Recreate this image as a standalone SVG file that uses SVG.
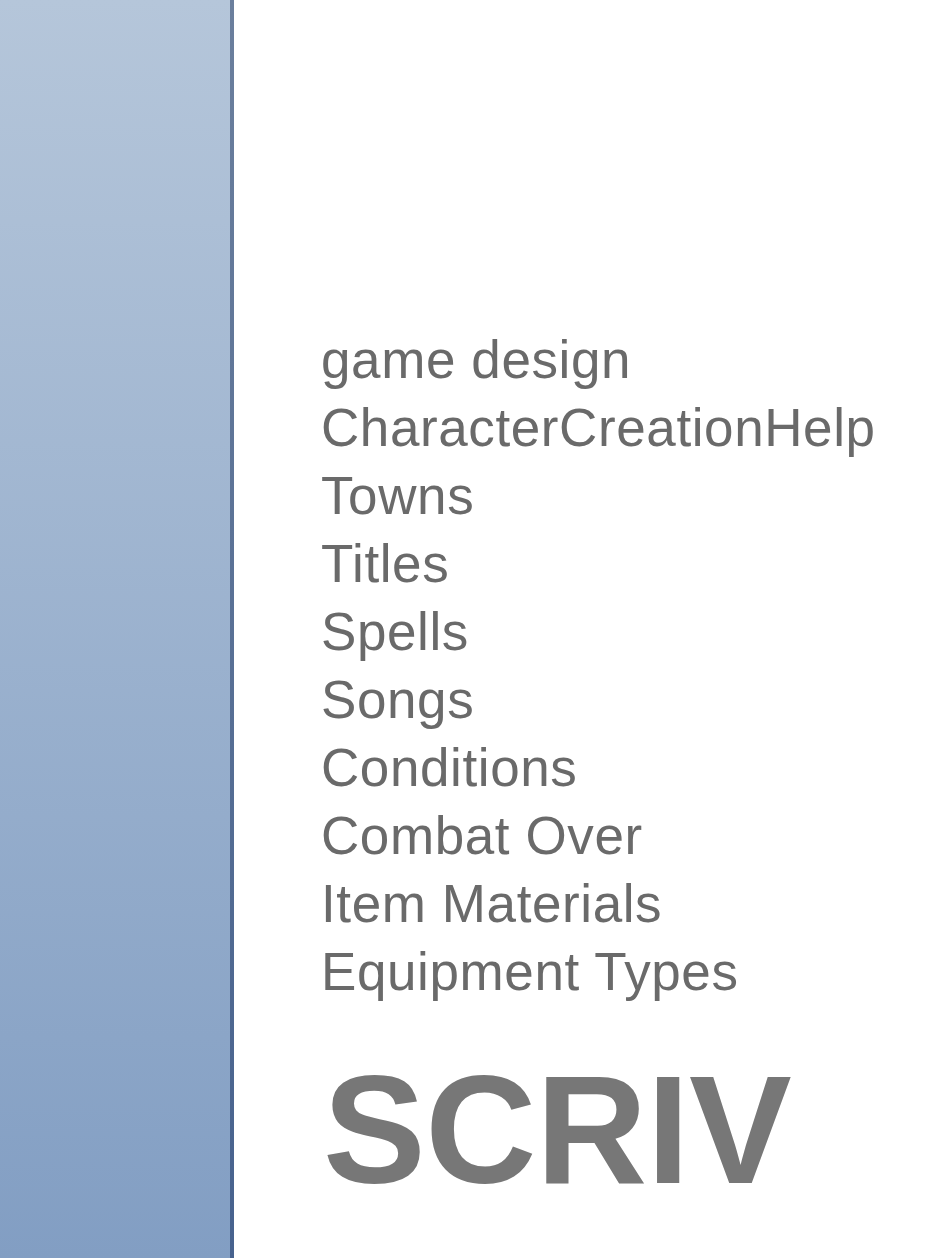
<svg xmlns="http://www.w3.org/2000/svg" width="944" height="1258" viewBox="0 0 944 1258">
<defs>
<linearGradient id="panel" x1="0" y1="0" x2="0" y2="1">
<stop offset="0" stop-color="#b5c6da"/>
<stop offset="1" stop-color="#829ec3"/>
</linearGradient>
<linearGradient id="edge" x1="0" y1="0" x2="0" y2="1">
<stop offset="0" stop-color="#6b7f9d"/>
<stop offset="1" stop-color="#47628e"/>
</linearGradient>
<style>
.item{font-family:"Liberation Sans",Arial,sans-serif;font-size:53px;letter-spacing:0.6px;fill:#6a6a6a}
.title{font-family:"Liberation Sans",Arial,sans-serif;font-size:154px;font-weight:bold;letter-spacing:-0.5px;fill:#777777}
</style>
</defs>
<rect x="0" y="0" width="944" height="1258" fill="#ffffff"/>
<g id="spine">
<rect x="0" y="0" width="230" height="1258" fill="url(#panel)"/>
<rect x="230" y="0" width="4" height="1258" fill="url(#edge)"/>
</g>
<g id="items">
<text class="item" x="321" y="378">game design</text>
<text class="item" x="321" y="446">CharacterCreationHelp</text>
<text class="item" x="321" y="514">Towns</text>
<text class="item" x="321" y="582">Titles</text>
<text class="item" x="321" y="650">Spells</text>
<text class="item" x="321" y="718">Songs</text>
<text class="item" x="321" y="786">Conditions</text>
<text class="item" x="321" y="854">Combat Over</text>
<text class="item" x="321" y="922">Item Materials</text>
<text class="item" x="321" y="990">Equipment Types</text>
</g>
<g id="title">
<text class="title" x="323" y="1183">SCRIV</text>
</g>
</svg>
